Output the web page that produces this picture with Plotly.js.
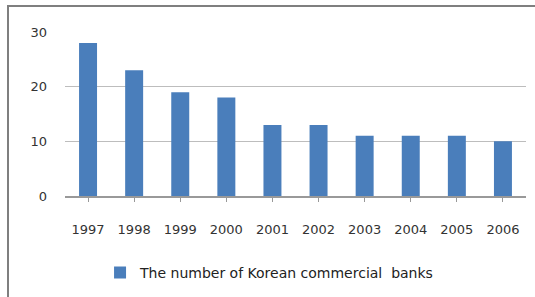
<!DOCTYPE html>
<html><head><meta charset="utf-8">
<script src="https://cdn.plot.ly/plotly-3.0.1.min.js"></script>
<style>
html,body{margin:0;padding:0;background:#fff;}
#wrap{position:relative;width:535px;height:297px;overflow:hidden;}
#frame{position:absolute;left:7px;top:5px;width:600px;height:400px;border-left:2px solid #7f7f7f;border-top:2px solid #7f7f7f;pointer-events:none;}
#chart{position:absolute;left:0;top:0;width:535px;height:297px;}
</style></head>
<body><div id="wrap"><div id="frame"></div><div id="chart"></div></div>
<script>
const years = ['1997','1998','1999','2000','2001','2002','2003','2004','2005','2006'];
const banks = [28, 23, 19, 18, 13, 13, 11, 11, 11, 10];
const seriesName = 'The number of Korean commercial  banks';

Plotly.newPlot('chart', [{
  type: 'bar', x: years, y: banks, name: seriesName,
  marker: {color: '#4a7ebb'}, showlegend: true
}], {
  width: 535, height: 297,
  margin: {l: 65, r: 9, t: 32, b: 101},
  paper_bgcolor: 'rgba(0,0,0,0)', plot_bgcolor: 'rgba(0,0,0,0)',
  bargap: 0.61,
  font: {family: 'DejaVu Sans, sans-serif', size: 13, color: '#333'},
  xaxis: {type: 'category', showgrid: false, showline: true, linecolor: '#999', linewidth: 1.5,
    ticks: 'outside', ticklen: 4, tickcolor: '#999', ticklabelstandoff: 17, automargin: false,
    tickfont: {size: 13, color: '#333'}},
  yaxis: {range: [0, 30], tickvals: [0, 10, 20, 30], showgrid: true, gridcolor: '#bdbdbd', gridwidth: 1.5,
    zeroline: false, showline: false, ticks: '', ticklabelstandoff: 17, automargin: false,
    tickfont: {size: 13, color: '#333'}},
  legend: {orientation: 'h', xref: 'container', x: 0.187, xanchor: 'left',
    yref: 'container', y: 0.135, yanchor: 'top',
    font: {size: 14, color: '#222'}, bgcolor: 'rgba(0,0,0,0)'}
}, {displayModeBar: false, staticPlot: true});
</script></body></html>
